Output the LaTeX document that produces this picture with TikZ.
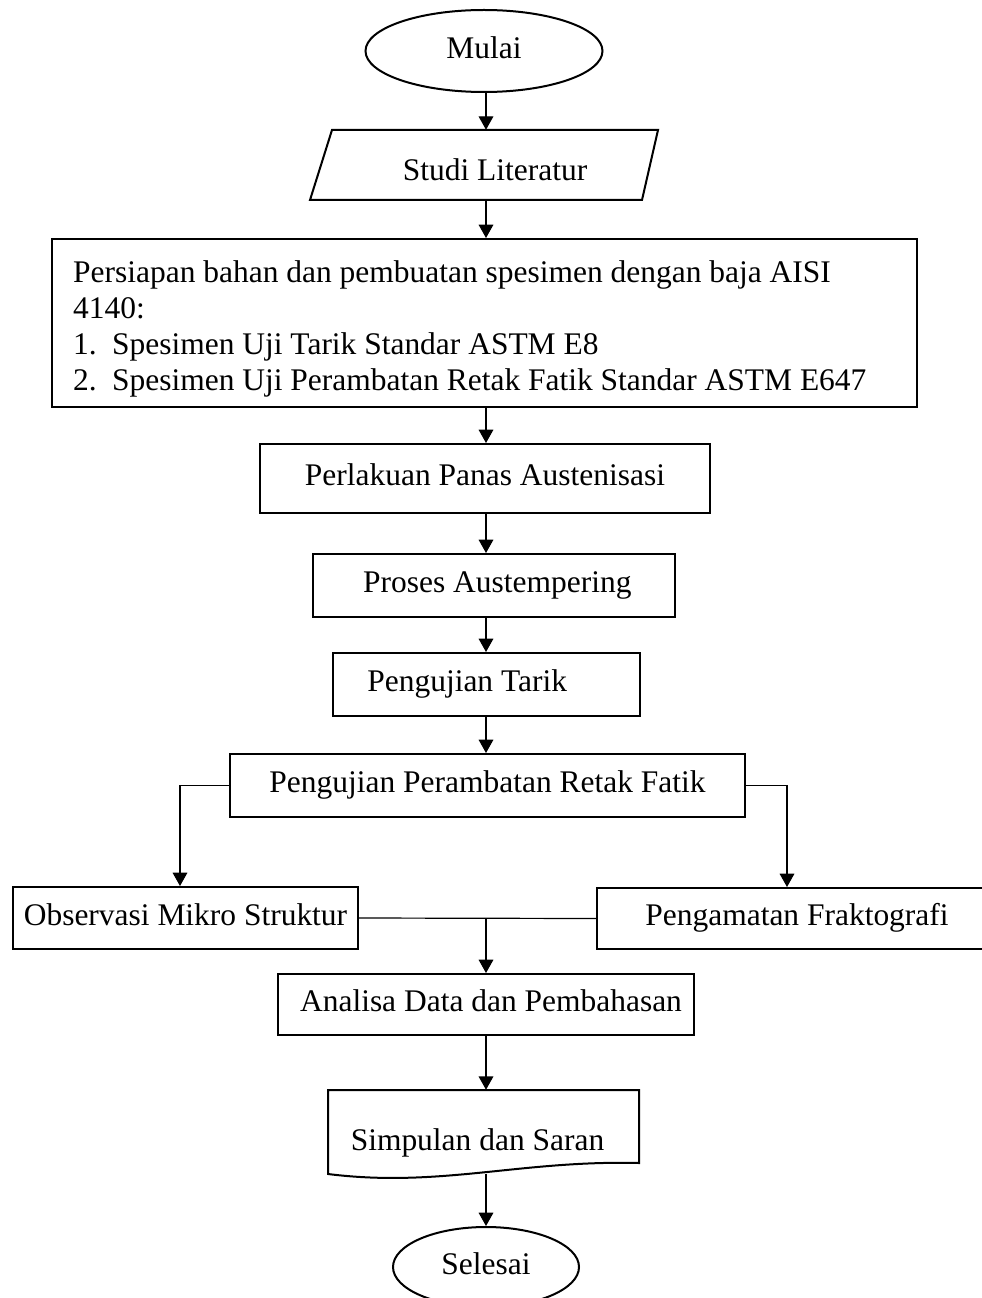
\documentclass[tikz,border=0pt]{standalone}
\usepackage{fontspec}
\setmainfont{Liberation Serif}
\usetikzlibrary{shapes.geometric,arrows.meta}
\begin{document}
\begin{tikzpicture}[x=0.75pt,y=-0.75pt,
  every node/.style={font=\fontsize{23.6}{27}\selectfont, inner sep=0pt},
  sz/.style 2 args={minimum width=#1*0.75pt, minimum height=#2*0.75pt},
  txtonly/.style={rectangle, text height=16.3pt, text depth=5.2pt},
  boxnode/.style={txtonly, draw, line width=1.5pt},
  ovalnode/.style={ellipse, draw, line width=1.5pt, text height=16.3pt, text depth=5.2pt},
  shapeline/.style={line width=1.5pt},
  conn/.style={line width=0.9pt},
  arr/.style={conn, -{Triangle[width=11pt,length=10pt]}},
]
\useasboundingbox (0,0) rectangle (981,1298);

\coordinate (xl) at (180,0);
\coordinate (xc) at (486,0);
\coordinate (xr) at (787,0);

% nodes
\node[ovalnode, sz={237}{82}] (mulai) at (484,51) {Mulai};

\draw[shapeline] (310,200) -- (332,130) -- (658,130) -- (642,200) -- cycle;
\node[txtonly, sz={330}{70}] (studi) at (484,165) {\hspace*{16.5pt}\raisebox{-6pt}[\height][\depth]{Studi Literatur}};

\node[draw, shapeline, rectangle, sz={865}{168}] (prep) at (484.5,323)
  {\raisebox{-4.5pt}[\height][\depth]{\parbox{617pt}{\raggedright
   Persiapan bahan dan pembuatan spesimen dengan baja AISI\\
   4140:\\
   \makebox[29.25pt][l]{1.}Spesimen Uji Tarik Standar ASTM E8\\
   \makebox[29.25pt][l]{2.}Spesimen Uji Perambatan Retak Fatik Standar ASTM E647}}};

\node[boxnode, sz={450}{69}] (perl) at (485,478.5) {Perlakuan Panas Austenisasi};
\node[boxnode, sz={362}{63}] (pros) at (494,585.5) {\hspace*{5pt}Proses Austempering};
\node[boxnode, sz={307}{63}] (tarik) at (486.5,684.5) {Pengujian Tarik\hspace*{29pt}};
\node[boxnode, sz={515}{63}] (peramb) at (487.5,785.5) {Pengujian Perambatan Retak Fatik};
\node[boxnode, sz={345}{62}] (obs) at (185.5,918) {Observasi Mikro Struktur};
\node[boxnode, sz={400}{61}] (peng) at (797,918.5) {Pengamatan Fraktografi};
\node[boxnode, sz={416}{61}] (analisa) at (486,1004.5) {\hspace*{7.5pt}Analisa Data dan Pembahasan};

\draw[shapeline] (328,1174) -- (328,1090) -- (639,1090) -- (639,1163)
  .. controls (520,1160) and (440,1188) .. (328,1174) -- cycle;
\node[txtonly, sz={311}{84}] (simp) at (483.5,1132) {\raisebox{-8pt}[\height][\depth]{Simpulan dan Saran}\hspace*{9pt}};

\node[ovalnode, sz={186}{80}] (sel) at (486,1267) {Selesai};

% connectors
\draw[arr] (xc |- mulai.south) -- (xc |- studi.north);
\draw[arr] (xc |- studi.south) -- (xc |- prep.north);
\draw[arr] (xc |- prep.south) -- (xc |- perl.north);
\draw[arr] (xc |- perl.south) -- (xc |- pros.north);
\draw[arr] (xc |- pros.south) -- (xc |- tarik.north);
\draw[arr] (xc |- tarik.south) -- (xc |- peramb.north);
\draw[arr] (peramb.west) -| (xl |- obs.north);
\draw[arr] (peramb.east) -| (xr |- peng.north);
\draw[conn] (obs.east) -- (peng.west);
\draw[arr] (xc |- obs.east) -- (xc |- analisa.north);
\draw[arr] (xc |- analisa.south) -- (xc |- simp.north);
\draw[arr] (xc |- simp.south) -- (xc |- sel.north);
\end{tikzpicture}
\end{document}
